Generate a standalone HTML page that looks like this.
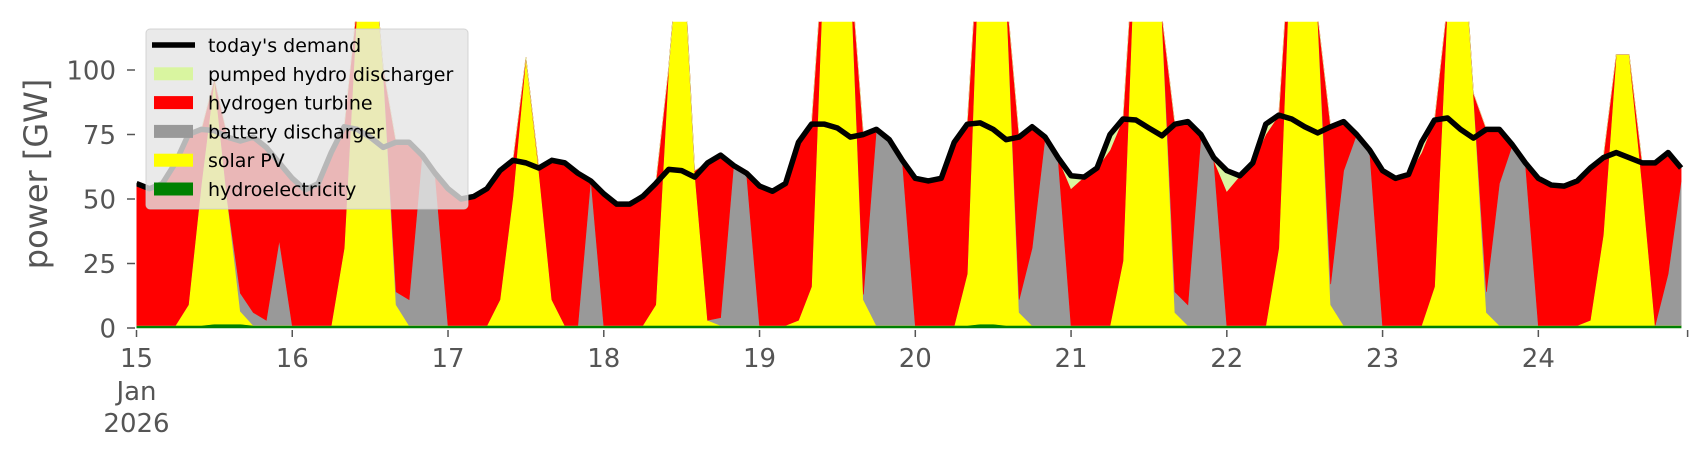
<!DOCTYPE html>
<html><head><meta charset="utf-8"><style>
html,body{margin:0;padding:0;background:#fff;}
svg{display:block;font-family:"DejaVu Sans","Liberation Sans",sans-serif;}
</style></head><body>
<svg id="chart" width="1706" height="460" viewBox="0 0 1706 460" xmlns="http://www.w3.org/2000/svg">
<defs><clipPath id="plotclip"><rect x="136.5" y="21.7" width="1550" height="310"/></clipPath></defs>
<g id="series" clip-path="url(#plotclip)"></g>
<g id="axes"></g>
<g id="legend"></g>
</svg>
<script>
// 2-hourly values starting 15 Jan 2026 00:00 (GW)
const stepHours = 2;
const demand = [56,54,56,64,75,77,76.5,74,72.5,74,70,64,
58,53.5,56,68,78,77,74,70,72,72,67,60,
54,50,51,54,61,65,64,62,65,64,60,57,
52,48,48,51,56,61.5,61,58.5,64,67,63,60,
55,53,56,72,79,79,77.5,74,75,77,73,65,
58,57,58,72,79,79.5,77,73,74,78,74,66,
59,58.5,62,75,81,80.6,77.5,74.5,79,80,75,66,
61,59,64,79,82.5,81,78,75.6,78,80,75,69,
61,58,59.5,72,80.6,81.4,77,73.6,77,77,71,64,
58,55.4,55,57,62,66,68,66,64,64,68,62];
const hydro = [1,1,1,1,1,1,1.5,1.5,1.5,1,1,1,
1,1,1,1,1,1,1,1,1,1,1,1,
1,1,1,1,1,1,1,1,1,1,1,1,
1,1,1,1,1,1,1,1,1,1,1,1,
1,1,1,1,1,1,1,1,1,1,1,1,
1,1,1,1,1,1.5,1.5,1,1,1,1,1,
1,1,1,1,1,1,1,1,1,1,1,1,
1,1,1,1,1,1,1,1,1,1,1,1,
1,1,1,1,1,1,1,1,1,1,1,1,
1,1,1,1,1,1,1,1,1,1,1,1];
const solar = [0,0,0,0,8,55,95,48,5,0,0,0,
0,0,0,0,30,125,160,100,8,0,0,0,
0,0,0,0,10,50,104,60,10,0,0,0,
0,0,0,0,8,100,160,60,2,0,0,0,
0,0,0,2,15,150,170,140,10,0,0,0,
0,0,0,0,20,160,170,130,5,0,0,0,
0,0,0,0,25,160,180,120,5,0,0,0,
0,0,0,0,30,160,170,120,8,0,0,0,
0,0,0,0,15,125,170,90,5,0,0,0,
0,0,0,0,2,35,105,105,55,0,0,0];
const battery = [0,0,0,0,0,0,0,0,7,5,2,33,
0,0,0,0,0,0,0,0,5,10,66,59,
0,0,0,0,0,0,0,0,0,0,0,57,
0,0,0,0,0,0,0,0,0,3,62,59,
0,0,0,0,0,0,0,0,2,76,72,64,
0,0,0,0,0,0,0,0,5,30,73,65,
0,0,0,0,0,0,0,0,8,8,73,64,
0,0,0,0,0,0,0,0,8,60,74,68,
0,0,0,0,0,0,0,0,8,55,70,63,
0,0,0,0,0,0,0,0,0,0,20,56];
const hydrogen = [55,53,55,63,66,21,0,25,59.5,68,67,30,
57,52.5,55,67,47,0,0,0,58,61,0,0,
53,49,50,53,50,14,0,1,54,63,59,0,
51,47,47,50,47,0,0,0,61,63,0,0,
54,52,55,69,63,0,0,0,62,0,0,0,
57,56,57,71,58,0,0,0,63,47,0,0,
53,57.5,61,68,55,0,0,0,65,71,0,0,
52,58,63,74,51.5,0,0,0,61,19,0,0,
60,57,58.5,67,64.6,0,0,0,63,21,0,0,
57,54.4,54,56,59,30,0,0,8,63,47,5];
const pumped = [0,0,0,0,0,0,0,0,0,0,0,0,
0,0,0,0,0,0,0,0,0,0,0,0,
0,0,0,0,0,0,0,0,0,0,0,0,
0,0,0,0,0,0,0,0,0,0,0,0,
0,0,0,0,0,0,0,0,0,0,0,0,
0,0,0,0,0,0,0,0,0,0,0,0,
5,0,0,6,0,0,0,0,0,0,0,0,
8,0,0,4,0,0,0,0,0,0,0,0,
0,0,0,4,0,0,0,0,0,0,0,0,
0,0,0,0,0,0,0,0,0,0,0,0];
const yTicks = [0,25,50,75,100];
const dayLabels = ["15","16","17","18","19","20","21","22","23","24"];

const NS="http://www.w3.org/2000/svg";
const X0=136.5, PXH=6.49, Y0=328, PXV=2.58;
function xs(h){return X0+h*PXH;}
function ys(v){return Y0-v*PXV;}
function mk(tag,attrs,parent){const e=document.createElementNS(NS,tag);for(const k in attrs)e.setAttribute(k,attrs[k]);parent.appendChild(e);return e;}

const gS=document.getElementById('series');
const stackDefs=[[hydro,'#008000','hydroelectricity-area'],[solar,'#ffff00','solar-pv-area'],[battery,'#999999','battery-discharger-area'],[hydrogen,'#ff0000','hydrogen-turbine-area'],[pumped,'#d9f5a0','pumped-hydro-area']];
let base=demand.map(()=>0);
stackDefs.forEach(([arr,col,name])=>{
  const top=arr.map((v,i)=>base[i]+v);
  let d='';
  top.forEach((v,i)=>{d+=(i?'L':'M')+xs(i*stepHours).toFixed(2)+','+ys(v).toFixed(2);});
  for(let i=base.length-1;i>=0;i--) d+='L'+xs(i*stepHours).toFixed(2)+','+ys(base[i]).toFixed(2);
  const p=mk('path',{d:d+'Z',fill:col,stroke:col,'stroke-width':0.6},gS);
  
  
  base=top;
});
let dl='';
demand.forEach((v,i)=>{dl+=(i?'L':'M')+xs(i*stepHours).toFixed(2)+','+ys(v).toFixed(2);});
const line=mk('path',{d:dl,fill:'none',stroke:'#000','stroke-width':5.5,'stroke-linejoin':'round'},gS);



const gA=document.getElementById('axes');
yTicks.forEach(v=>{
  const t=mk('line',{x1:127,x2:135,y1:ys(v),y2:ys(v),stroke:'#555','stroke-width':1.5},gA);
  
  
  const l=mk('text',{x:116,y:ys(v)+9.5,'text-anchor':'end','font-size':26,fill:'#555'},gA);
  l.textContent=v;
  
  
});
dayLabels.forEach((lab,i)=>{
  const x=xs(i*24);
  const t=mk('line',{x1:x,x2:x,y1:330,y2:337,stroke:'#555','stroke-width':1.5},gA);
  
  
  const l=mk('text',{x:x,y:367,'text-anchor':'middle','font-size':26,fill:'#555'},gA);
  l.textContent=lab;
  
  
});
const tEnd=mk('line',{x1:xs(239),x2:xs(239),y1:330,y2:337,stroke:'#555','stroke-width':1.5},gA);


[["Jan",400],["2026",432]].forEach(([s,y])=>{
  const l=mk('text',{x:xs(0),y:y,'text-anchor':'middle','font-size':26,fill:'#555'},gA);
  l.textContent=s;
  
  
});
const yl=mk('text',{x:0,y:0,transform:'translate(47,174) rotate(-90)','text-anchor':'middle','font-size':32,fill:'#555'},gA);
yl.textContent='power [GW]';



const gL=document.getElementById('legend');
const box=mk('rect',{x:146,y:29,width:322,height:180,rx:4,fill:'#e5e5e5','fill-opacity':0.8,stroke:'#cccccc','stroke-opacity':0.8},gL);


const entries=[["today's demand",'line','#000'],['pumped hydro discharger','patch','#d9f5a0'],['hydrogen turbine','patch','#ff0000'],['battery discharger','patch','#999999'],['solar PV','patch','#ffff00'],['hydroelectricity','patch','#008000']];
entries.forEach(([lab,kind,col],i)=>{
  const cy=45+i*28.8;
  let m;
  if(kind==='line') m=mk('line',{x1:152,x2:195,y1:cy,y2:cy,stroke:col,'stroke-width':5.5},gL);
  else m=mk('rect',{x:154,y:cy-6.5,width:39,height:13,fill:col},gL);
  
  
  const t=mk('text',{x:208,y:cy+7,'font-size':19,fill:'#000'},gL);
  t.textContent=lab;
  
  
});
</script>
</body></html>
